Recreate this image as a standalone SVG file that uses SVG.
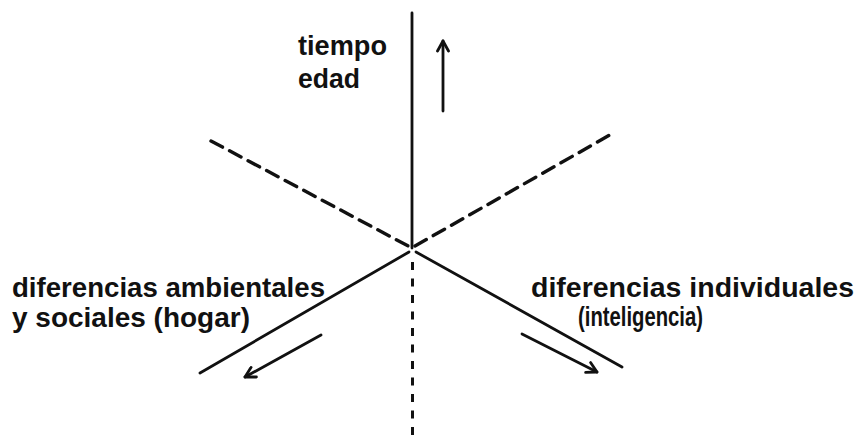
<svg xmlns="http://www.w3.org/2000/svg" width="859" height="437" viewBox="0 0 859 437">
<defs>
<style>
.lbl{font-family:"Liberation Sans",Arial,sans-serif;font-weight:bold;font-size:27px;fill:#111}
.solid{stroke:#111;stroke-width:2.8;fill:none;stroke-linecap:round}
.dash{stroke:#111;stroke-width:3.4;fill:none;stroke-dasharray:13 8;stroke-linecap:round}
.vdash{stroke:#111;stroke-width:3;fill:none;stroke-dasharray:8 8.5}
</style>
<marker id="ah" viewBox="0 0 14 14" refX="12" refY="7" markerWidth="14" markerHeight="14" markerUnits="userSpaceOnUse" orient="auto">
<path d="M2,1.5 L12,7 L2,12.5" fill="none" stroke="#111" stroke-width="2.8" stroke-linecap="round" stroke-linejoin="round"/>
</marker>
</defs>
<rect width="859" height="437" fill="#fff"/>
<g id="connectors">
<line class="solid" x1="412" y1="13" x2="412" y2="248"/>
<line class="vdash" x1="412.5" y1="262" x2="412.5" y2="437"/>
<line class="dash" x1="211" y1="141" x2="410" y2="247"/>
<line class="dash" x1="415" y1="246" x2="615" y2="132"/>
<line class="solid" x1="409" y1="252" x2="200" y2="373"/>
<line class="solid" x1="416" y1="252" x2="622" y2="367"/>
<line class="solid" x1="443" y1="111" x2="443" y2="41" marker-end="url(#ah)"/>
<line class="solid" x1="321" y1="335" x2="245" y2="377" marker-end="url(#ah)"/>
<line class="solid" x1="522" y1="334" x2="597" y2="372" marker-end="url(#ah)"/>
</g>
<g id="node-tiempo">
<text class="lbl" x="298" y="55" font-size="26" textLength="89" lengthAdjust="spacingAndGlyphs">tiempo</text>
<text class="lbl" x="298" y="88" font-size="26" textLength="62" lengthAdjust="spacingAndGlyphs">edad</text>
</g>
<g id="node-ambientales">
<text class="lbl" x="12" y="297" textLength="313" lengthAdjust="spacingAndGlyphs">diferencias ambientales</text>
<text class="lbl" x="12" y="327" textLength="238" lengthAdjust="spacingAndGlyphs">y sociales (hogar)</text>
</g>
<g id="node-individuales">
<text class="lbl" x="531" y="297" textLength="323" lengthAdjust="spacingAndGlyphs">diferencias individuales</text>
<text class="lbl" x="578" y="326" font-size="26" textLength="125" lengthAdjust="spacingAndGlyphs">(inteligencia)</text>
</g>
</svg>
